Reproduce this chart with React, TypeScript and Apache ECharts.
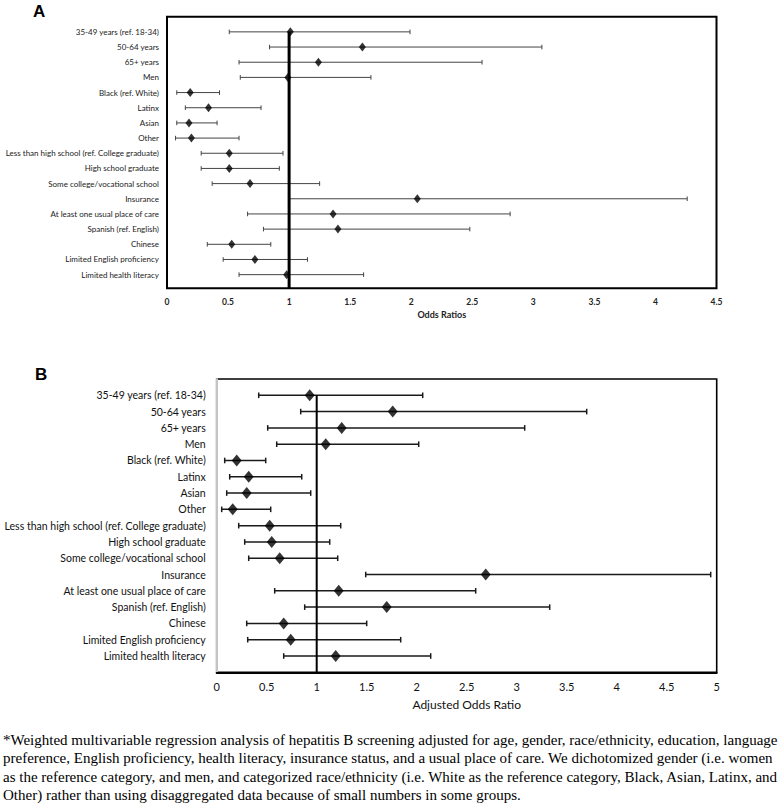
import React, { useEffect, useRef } from 'react';
import * as echarts from 'echarts';

const rowLabels = [
  '35-49 years (ref. 18-34)',
  '50-64 years',
  '65+ years',
  'Men',
  'Black (ref. White)',
  'Latinx',
  'Asian',
  'Other',
  'Less than high school (ref. College graduate)',
  'High school graduate',
  'Some college/vocational school',
  'Insurance',
  'At least one usual place of care',
  'Spanish (ref. English)',
  'Chinese',
  'Limited English proficiency',
  'Limited health literacy',
];

// Panel A: odds ratios
const aEst = [1.01, 1.6, 1.24, 0.99, 0.19, 0.34, 0.18, 0.2, 0.51, 0.51, 0.68, 2.05, 1.36, 1.4, 0.53, 0.72, 0.98];
const aLow = [0.51, 0.84, 0.59, 0.6, 0.08, 0.15, 0.08, 0.07, 0.28, 0.28, 0.37, 1.0, 0.66, 0.79, 0.33, 0.46, 0.59];
const aHigh = [1.99, 3.07, 2.58, 1.67, 0.43, 0.77, 0.41, 0.59, 0.95, 0.92, 1.25, 4.26, 2.81, 2.48, 0.85, 1.15, 1.61];

// Panel B: adjusted odds ratios
const bEst = [0.93, 1.76, 1.25, 1.09, 0.2, 0.32, 0.3, 0.16, 0.53, 0.55, 0.63, 2.69, 1.22, 1.7, 0.67, 0.74, 1.19];
const bLow = [0.42, 0.84, 0.51, 0.6, 0.08, 0.13, 0.1, 0.05, 0.22, 0.28, 0.32, 1.49, 0.58, 0.88, 0.3, 0.31, 0.67];
const bHigh = [2.06, 3.7, 3.08, 2.02, 0.49, 0.85, 0.94, 0.54, 1.24, 1.13, 1.21, 4.94, 2.59, 3.33, 1.5, 1.84, 2.14];

const captionLines = [
  '*Weighted multivariable regression analysis of hepatitis B screening adjusted for age, gender, race/ethnicity, education, language',
  'preference, English proficiency, health literacy, insurance status, and a usual place of care. We dichotomized gender (i.e. women',
  'as the reference category, and men, and categorized race/ethnicity (i.e. White as the reference category, Black, Asian, Latinx, and',
  'Other) rather than using disaggregated data because of small numbers in some groups.',
];

const LABEL_FONT = 'Lato, "Open Sans", sans-serif';

function errorBars(xIdx: number, yIdx: number, low: number[], high: number[], stroke: string, lw: number, cap: number) {
  return {
    type: 'custom',
    xAxisIndex: xIdx,
    yAxisIndex: yIdx,
    silent: true,
    z: 2,
    encode: { x: [0, 2], y: 1 },
    data: low.map((l, i) => [l, i + 1, high[i]]),
    renderItem: (_p: any, api: any) => {
      const y = api.value(1);
      const a = api.coord([api.value(0), y]);
      const b = api.coord([api.value(2), y]);
      const style = { stroke, lineWidth: lw };
      return {
        type: 'group',
        children: [
          { type: 'line', shape: { x1: a[0], y1: a[1], x2: b[0], y2: b[1] }, style },
          { type: 'line', shape: { x1: a[0], y1: a[1] - cap, x2: a[0], y2: a[1] + cap }, style },
          { type: 'line', shape: { x1: b[0], y1: b[1] - cap, x2: b[0], y2: b[1] + cap }, style },
        ],
      };
    },
  };
}

function rowFormatter(v: number) {
  return Number.isInteger(v) && v >= 1 && v <= rowLabels.length ? rowLabels[v - 1] : '';
}

export default function App() {
  const ref = useRef<HTMLDivElement>(null);
  useEffect(() => {
    document.body.style.margin = '0';
    const chart = echarts.init(ref.current!, null, { renderer: 'svg' });
    const aMax = 17.9;
    const bMax = 18;
    const option: any = {
      animation: false,
      backgroundColor: '#fff',
      grid: [
        { left: 167, top: 16.7, width: 549.5, height: 271.6, show: true, borderColor: '#000', borderWidth: 2, outerBoundsMode: 'none', containLabel: false },
        { left: 216.7, top: 379, width: 500, height: 293.3, show: true, borderColor: '#000', borderWidth: 1.6, outerBoundsMode: 'none', containLabel: false },
      ],
      xAxis: [
        {
          type: 'value', gridIndex: 0, min: 0, max: 4.5, interval: 0.5,
          axisLine: { show: false, onZero: false }, axisTick: { show: false }, splitLine: { show: false },
          axisLabel: { fontFamily: LABEL_FONT, fontSize: 8.5, fontWeight: 'bold', color: '#222', margin: 9 },
          name: 'Odds Ratios', nameLocation: 'middle', nameGap: 22,
          nameTextStyle: { fontFamily: LABEL_FONT, fontSize: 9, fontWeight: 'bold', color: '#222' },
        },
        {
          type: 'value', gridIndex: 1, min: 0, max: 5, interval: 0.5, position: 'bottom',
          axisLine: { show: true, onZero: false, lineStyle: { color: '#000', width: 2 } }, axisTick: { show: false }, splitLine: { show: false },
          axisLabel: { fontFamily: LABEL_FONT, fontSize: 11, color: '#111', margin: 9 },
          name: 'Adjusted Odds Ratio', nameLocation: 'middle', nameGap: 26,
          nameTextStyle: { fontFamily: LABEL_FONT, fontSize: 12, color: '#111' },
        },
      ],
      yAxis: [
        {
          type: 'value', gridIndex: 0, min: 0, max: aMax, interval: 1, inverse: true,
          axisLine: { show: false, onZero: false }, axisTick: { show: false }, splitLine: { show: false },
          axisLabel: { formatter: rowFormatter, fontFamily: LABEL_FONT, fontSize: 8, color: '#222', margin: 8 },
        },
        {
          type: 'value', gridIndex: 1, min: 0, max: bMax, interval: 1, inverse: true, position: 'left',
          axisLine: { show: true, onZero: false, lineStyle: { color: '#c4c4c4', width: 2 } }, axisTick: { show: false }, splitLine: { show: false },
          axisLabel: { formatter: rowFormatter, fontFamily: LABEL_FONT, fontSize: 10.5, color: '#111', margin: 11 },
        },
      ],
      series: [
        errorBars(0, 0, aLow, aHigh, '#444', 1, 2.3),
        {
          type: 'line', xAxisIndex: 0, yAxisIndex: 0, symbol: 'none', silent: true, z: 3,
          lineStyle: { color: '#000', width: 3 },
          data: [[1, 1], [1, aMax]],
        },
        {
          type: 'scatter', xAxisIndex: 0, yAxisIndex: 0, symbol: 'diamond', symbolSize: [7, 9], z: 4,
          itemStyle: { color: '#000' },
          data: aEst.map((v, i) => [v, i + 1]),
        },
        errorBars(1, 1, bLow, bHigh, '#1a1a1a', 1.5, 2.8),
        {
          type: 'line', xAxisIndex: 1, yAxisIndex: 1, symbol: 'none', silent: true, z: 3,
          lineStyle: { color: '#000', width: 2 },
          data: [[1, 1], [1, bMax]],
        },
        {
          type: 'scatter', xAxisIndex: 1, yAxisIndex: 1, symbol: 'diamond', symbolSize: [10, 12], z: 4,
          itemStyle: { color: '#000' },
          data: bEst.map((v, i) => [v, i + 1]),
        },
      ],
      graphic: [
        { type: 'text', left: 33, top: 3, style: { text: 'A', font: 'bold 17px "Liberation Sans", Arial, sans-serif', fill: '#000' } },
        { type: 'text', left: 35, top: 366, style: { text: 'B', font: 'bold 17px "Liberation Sans", Arial, sans-serif', fill: '#000' } },
        {
          type: 'text', left: 3, top: 731,
          style: { text: captionLines.join('\n'), font: '15px "Liberation Serif", "Times New Roman", serif', lineHeight: 18.2, fill: '#000' },
        },
      ],
    };
    chart.setOption(option);
    return () => chart.dispose();
  }, []);
  return <div ref={ref} style={{ width: 780, height: 804 }} />;
}
